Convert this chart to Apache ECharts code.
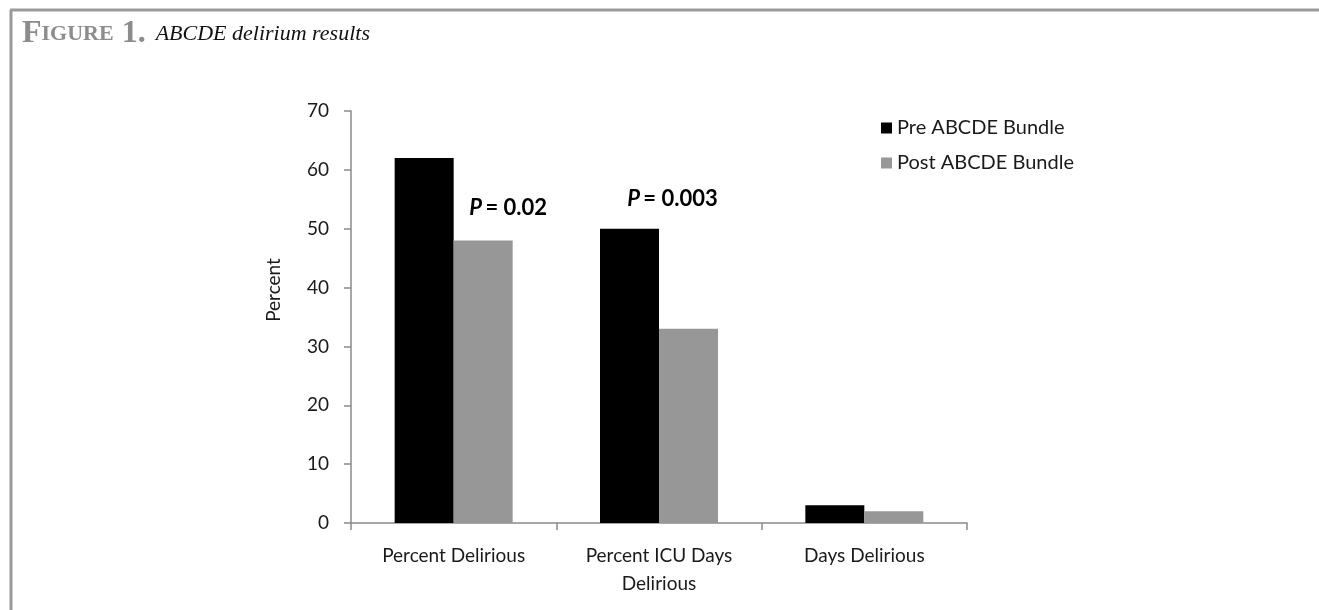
<!DOCTYPE html>
<html>
<head>
<meta charset="utf-8">
<script src="https://cdn.jsdelivr.net/npm/echarts@6/dist/echarts.min.js"></script>
<style>
  html, body { margin: 0; padding: 0; background: #fff; }
  #chart { width: 1319px; height: 610px; }
</style>
</head>
<body>
<div id="chart"></div>
<script>
// data
const categories = ['Percent Delirious', 'Percent ICU Days\nDelirious', 'Days Delirious']
const preBundle = [62, 50, 3]
const postBundle = [48, 33, 2]
const yTicks = { min: 0, max: 70, interval: 10 }
const pNotes = ['0.02', '0.003'] // p value for category 0 (on post bar) and 1 (on pre bar)

const FONT = 'Lato, "Open Sans", sans-serif'
const SERIF = '"Liberation Serif", "DejaVu Serif", serif'
const TEXT = '#1a1a1a'
const AXIS = '#8a8a8a'

const pLabel = (p, dx, dy) => ({
  show: true,
  position: 'top',
  offset: [dx, dy],
  formatter: '{i|P} {b|= ' + p + '}',
  rich: {
    i: { fontFamily: FONT, fontSize: 22, fontWeight: 'bold', fontStyle: 'italic', color: '#000' },
    b: { fontFamily: FONT, fontSize: 22, fontWeight: 'bold', color: '#000' },
  },
})

const chart = echarts.init(document.getElementById('chart'))

chart.setOption({
  animation: false,
  backgroundColor: '#fff',
  title: {
    left: 22,
    top: 14,
    padding: 0,
    text: '{f|F}{s|IGURE}{f| 1.}{g| }{t|ABCDE delirium results}',
    textStyle: {
      fontWeight: 'normal',
      rich: {
        f: { fontFamily: SERIF, fontSize: 32, fontWeight: 'bold', color: '#8c8c8c' },
        s: { fontFamily: SERIF, fontSize: 22, fontWeight: 'bold', color: '#8c8c8c' },
        g: { fontFamily: SERIF, fontSize: 40 },
        t: { fontFamily: SERIF, fontSize: 22, fontStyle: 'italic', fontWeight: 'normal', color: '#111' },
      },
    },
  },
  // page frame (top and left rule of the figure box)
  graphic: [
    { type: 'line', shape: { x1: 10, y1: 10, x2: 1319, y2: 10 }, style: { stroke: '#9a9a9a', lineWidth: 3 } },
    { type: 'line', shape: { x1: 11, y1: 10, x2: 11, y2: 610 }, style: { stroke: '#9a9a9a', lineWidth: 3 } },
  ],
  legend: {
    orient: 'vertical',
    left: 876,
    top: 110,
    itemWidth: 11,
    itemHeight: 11,
    itemGap: 9,
    icon: 'rect',
    textStyle: { fontFamily: FONT, fontSize: 20, color: TEXT, lineHeight: 26 },
    data: ['Pre ABCDE Bundle', 'Post ABCDE Bundle'],
  },
  grid: { left: 351, right: 352, top: 111, bottom: 87 },
  xAxis: {
    type: 'category',
    data: categories,
    axisLine: { lineStyle: { color: AXIS, width: 1.5 } },
    axisTick: { show: true, length: 7, lineStyle: { color: AXIS, width: 1.5 } },
    axisLabel: { fontFamily: FONT, fontSize: 19, color: TEXT, margin: 19, lineHeight: 28 },
  },
  yAxis: {
    type: 'value',
    min: yTicks.min,
    max: yTicks.max,
    interval: yTicks.interval,
    name: 'Percent',
    nameLocation: 'middle',
    nameGap: 68,
    nameTextStyle: { fontFamily: FONT, fontSize: 19, color: TEXT, padding: [0, 0, 0, 54] },
    axisLine: { show: true, lineStyle: { color: AXIS, width: 1.5 } },
    axisTick: { show: true, length: 7, lineStyle: { color: AXIS, width: 1.5 } },
    splitLine: { show: false },
    axisLabel: { fontFamily: FONT, fontSize: 19, color: TEXT, margin: 22 },
  },
  series: [
    {
      name: 'Pre ABCDE Bundle',
      type: 'bar',
      barWidth: 59,
      barGap: '0%',
      itemStyle: { color: '#000' },
      data: preBundle.map((v, i) => i === 1 ? { value: v, label: pLabel(pNotes[1], 43, -14) } : v),
    },
    {
      name: 'Post ABCDE Bundle',
      type: 'bar',
      barWidth: 59,
      barGap: '0%',
      itemStyle: { color: '#979797' },
      data: postBundle.map((v, i) => i === 0 ? { value: v, label: pLabel(pNotes[0], 25, -17) } : v),
    },
  ],
})
</script>
</body>
</html>
